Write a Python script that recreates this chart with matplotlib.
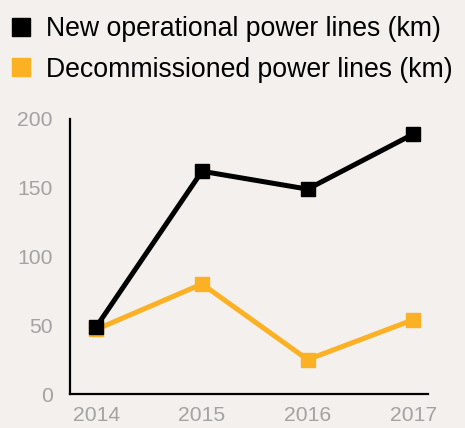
import matplotlib
matplotlib.use("Agg")
import matplotlib.pyplot as plt
from matplotlib.lines import Line2D

years = [2014, 2015, 2016, 2017]
new_lines = [49, 162, 149, 189]
decom_lines = [47, 80, 25, 54]
yticks = [0, 50, 100, 150, 200]
labels = ["New operational power lines (km)", "Decommissioned power lines (km)"]

bg = "#f3f0ed"
black = "#000000"
orange = "#fbb123"
grey = "#a3a3a3"

plt.rcParams['font.family'] = ['Liberation Sans', 'DejaVu Sans']

fig = plt.figure(figsize=(4.65, 4.28), dpi=100, facecolor=bg)
ax = fig.add_axes([70/465, 1-394/428, (428-70)/465, (394-119)/428])
ax.set_facecolor(bg)

ax.plot(years, decom_lines, color=orange, lw=3.6, marker='s', ms=10, solid_joinstyle='miter', zorder=2)
ax.plot(years, new_lines, color=black, lw=3.6, marker='s', ms=10, solid_joinstyle='miter', zorder=3)

ax.set_xlim(2013.75, 2017.14)
ax.set_ylim(0, 200)
ax.set_yticks(yticks)
ax.set_xticks(years)
ax.tick_params(length=0, labelsize=15.2, colors=grey)
ax.tick_params(axis='y', pad=12.5)
ax.tick_params(axis='x', pad=8.5)
for s in ['top', 'right']:
    ax.spines[s].set_visible(False)
for s in ['left', 'bottom']:
    ax.spines[s].set_color(black)
    ax.spines[s].set_linewidth(1.6)

handles = [Line2D([], [], color=black, marker='s', ls='none', ms=12.5),
           Line2D([], [], color=orange, marker='s', ls='none', ms=12.5)]
fig.legend(handles, labels, loc='upper left', bbox_to_anchor=(-0.024, 1.006), frameon=False,
           fontsize=19.2, handlelength=1.0, handletextpad=0.45, labelspacing=0.55,
           borderaxespad=0.3)

fig.savefig("out.png", dpi=100, facecolor=bg)
